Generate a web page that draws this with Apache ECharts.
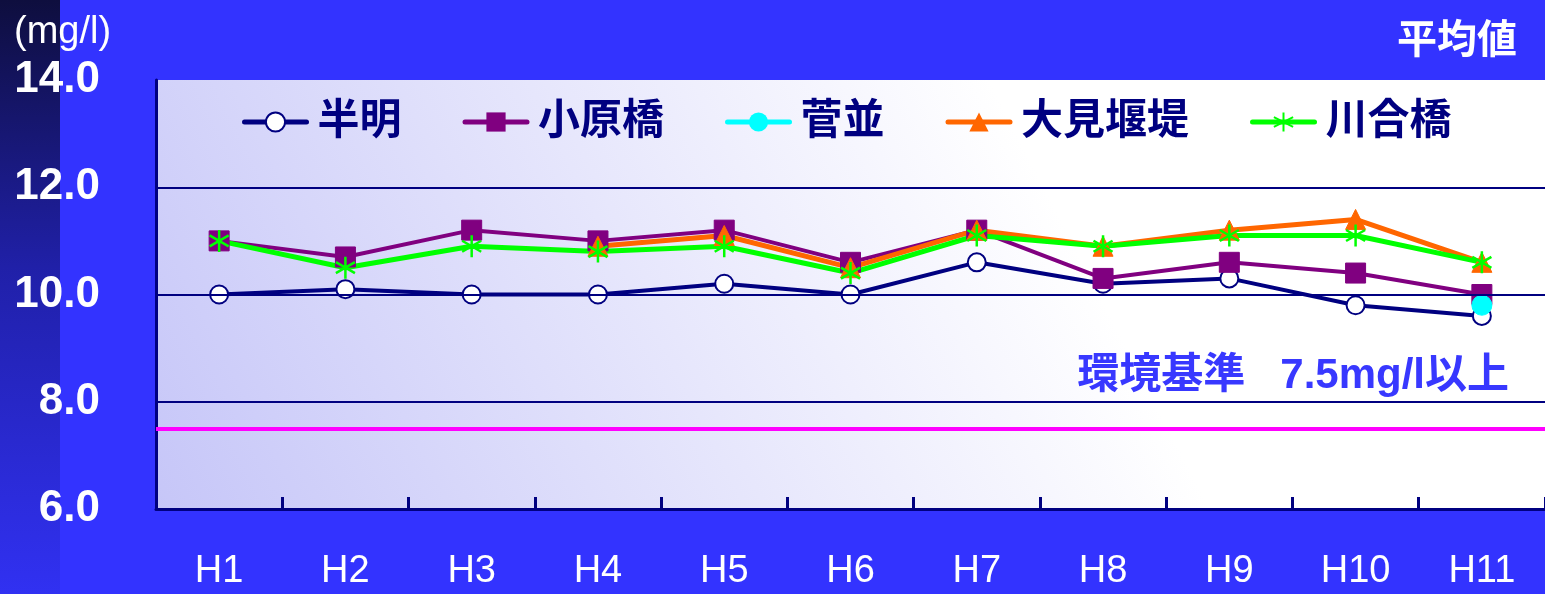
<!DOCTYPE html>
<html>
<head>
<meta charset="utf-8">
<script src="https://cdn.jsdelivr.net/npm/echarts@6/dist/echarts.min.js"></script>
<style>
html, body { margin: 0; padding: 0; background: #3333ff; }
#main { width: 1545px; height: 594px; }
</style>
</head>
<body>
<div id="main"></div>
<script>
// 年度
var years = ['H1', 'H2', 'H3', 'H4', 'H5', 'H6', 'H7', 'H8', 'H9', 'H10', 'H11'];
// 地点別 平均値 (mg/l)
var hanmyo   = [10.0, 10.1, 10.0, 10.0, 10.2, 10.0, 10.6, 10.2, 10.3, 9.8, 9.6];
var oharabashi = [11.0, 10.7, 11.2, 11.0, 11.2, 10.6, 11.2, 10.3, 10.6, 10.4, 10.0];
var sugenami = [null, null, null, null, null, null, null, null, null, null, 9.8];
var omiEntei = [null, null, null, 10.9, 11.1, 10.5, 11.2, 10.9, 11.2, 11.4, 10.6];
var kawaibashi = [11.0, 10.5, 10.9, 10.8, 10.9, 10.4, 11.1, 10.9, 11.1, 11.1, 10.6];
var gridLines = [8, 12, 10];
var kijun = 7.5;

var FONT = "'Liberation Sans', 'Noto Sans CJK JP', sans-serif";
var NAVY = '#000080';

var myChart = echarts.init(document.getElementById('main'));

// 川合橋のマーカー (アスタリスク)
var asterisk = 'path://M0,-10L0,10M-8.66,-5L8.66,5M-8.66,5L8.66,-5';

function lineSeries(name, data, color, width, symbol, size, extra) {
	var s = {
		name: name,
		type: 'line',
		data: data,
		symbol: symbol,
		symbolSize: size,
		showSymbol: true,
		connectNulls: false,
		lineStyle: { color: color, width: width },
		itemStyle: { color: color, borderColor: color },
		emphasis: { disabled: true }
	};
	for (var k in extra) s[k] = extra[k];
	return s;
}

var option = {
	backgroundColor: '#3333ff',
	animation: false,
	graphic: [
		{
			type: 'rect', z: -10, silent: true,
			shape: { x: 0, y: 0, width: 60, height: 594 },
			style: {
				fill: new echarts.graphic.LinearGradient(0, 0, 0, 1, [
					{ offset: 0, color: '#0e0e3e' },
					{ offset: 0.45, color: '#2020a8' },
					{ offset: 1, color: '#3131f2' }
				])
			}
		},
		{
			type: 'text', left: 14, top: 14,
			style: { text: '(mg/l)', fill: '#fff', font: 'normal 38px ' + FONT }
		},
		{
			type: 'text', right: 28, top: 22,
			style: { text: '平均値', fill: '#fff', font: 'bold 40px ' + FONT }
		},
		{
			type: 'text', right: 36, top: 355, z: 10,
			style: { text: '環境基準   7.5mg/l以上', fill: '#3838ff', font: 'bold 42px ' + FONT }
		}
	],
	legend: {
		left: 242,
		top: 101,
		padding: 0,
		itemWidth: 62,
		itemHeight: 24,
		itemGap: 61,
		lineStyle: { width: 5, cap: 'round' },
		textStyle: {
			color: NAVY, fontWeight: 'bold', fontSize: 42, fontFamily: FONT,
			padding: [0, 0, 0, 6]
		},
		data: ['半明', '小原橋', '菅並', '大見堰堤', '川合橋']
	},
	grid: {
		left: 156, right: 0, top: 80, bottom: 85,
		show: true,
		borderWidth: 0,
		backgroundColor: new echarts.graphic.LinearGradient(0, 1, 0.6, 0, [
			{ offset: 0, color: '#c6c6f8' },
			{ offset: 1, color: '#ffffff' }
		])
	},
	xAxis: {
		type: 'category',
		data: years,
		boundaryGap: true,
		axisLine: { show: true, lineStyle: { color: NAVY, width: 3 } },
		axisTick: { show: true, inside: true, length: 12, interval: 0, lineStyle: { color: NAVY, width: 3 } },
		axisLabel: { color: '#fff', fontSize: 38, fontFamily: FONT, margin: 44 },
		splitLine: { show: false }
	},
	yAxis: {
		type: 'value',
		min: 6, max: 14, interval: 2,
		axisLine: { show: true, lineStyle: { color: NAVY, width: 3 } },
		axisTick: { show: false },
		splitLine: { show: false },
		axisLabel: {
			color: '#fff', fontSize: 44, fontWeight: 'bold', fontFamily: FONT, margin: 56,
			formatter: function (v) { return v.toFixed(1); }
		}
	},
	series: [
		lineSeries('半明', hanmyo, NAVY, 4, 'circle', 18, {
			itemStyle: { color: '#fff', borderColor: NAVY, borderWidth: 2 },
			markLine: {
				silent: true, symbol: 'none', animation: false,
				label: { show: false },
				data: gridLines.map(function (v) {
					return { yAxis: v, lineStyle: { color: NAVY, width: 2, type: 'solid' } };
				}).concat([{ yAxis: kijun, lineStyle: { color: '#ff00ff', width: 4, type: 'solid' } }])
			}
		}),
		lineSeries('小原橋', oharabashi, '#800080', 4, 'rect', 20, {}),
		lineSeries('菅並', sugenami, '#00ffff', 4, 'circle', 20, {}),
		lineSeries('大見堰堤', omiEntei, '#ff6600', 5, 'triangle', 20, {}),
		lineSeries('川合橋', kawaibashi, '#00ff00', 5, asterisk, 22, {
			symbolKeepAspect: true,
			itemStyle: { color: 'none', borderColor: '#00ff00', borderWidth: 2.5 }
		})
	]
};

myChart.setOption(option);
</script>
</body>
</html>
